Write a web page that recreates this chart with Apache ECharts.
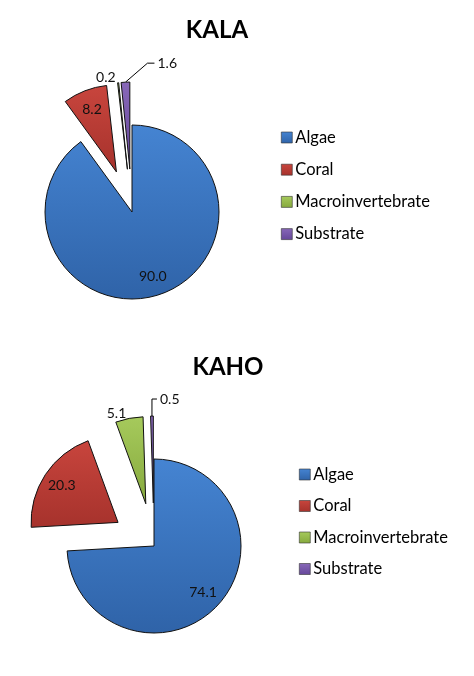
<!DOCTYPE html>
<html><head><meta charset="utf-8">
<script src="https://cdn.jsdelivr.net/npm/echarts@6/dist/echarts.min.js"></script>
<style>html,body{margin:0;padding:0;background:#fff}#c{width:474px;height:676px}</style>
</head><body><div id="c"></div>
<script>
// ---- data ----
const categories = ['Algae', 'Coral', 'Macroinvertebrate', 'Substrate'];
const kalaValues = [90.0, 8.2, 0.2, 1.6];
const kahoValues = [74.1, 20.3, 5.1, 0.5];
const explodedFlags = [false, true, true, true];
const kalaLabelModes = ['inside', 'inside', 'outside', 'leader'];
const kahoLabelModes = ['inside', 'inside', 'outside', 'leader'];
const chartTitles = ['KALA', 'KAHO'];

// ---- style ----
const FONT = 'Lato';
const R = 87;
const OFFSET = 43;
const sliceColors = [
  ['#4584d2', '#2f63a8'],
  ['#c8453d', '#a6322c'],
  ['#a6ca5c', '#86a93d'],
  ['#8868b8', '#65479a']
];
function grad(i) {
  return new echarts.graphic.LinearGradient(0, 0, 0, 1, [
    { offset: 0, color: sliceColors[i][0] },
    { offset: 1, color: sliceColors[i][1] }
  ]);
}
const pies = [
  { title: chartTitles[0], values: kalaValues, modes: kalaLabelModes,
    center: [132, 212], titlePos: [217, 18], legendPos: [281, 129], legendGap: 15.2, leader: [22, 19, 7] },
  { title: chartTitles[1], values: kahoValues, modes: kahoLabelModes,
    center: [154, 546], titlePos: [228, 355], legendPos: [299, 466], legendGap: 14.5, leader: [0, 17, 5] }
];

const chart = echarts.init(document.getElementById('c'), null, { renderer: 'canvas' });
const title = [], legend = [], series = [];
pies.forEach(function (cfg) {
  title.push({
    text: cfg.title, left: cfg.titlePos[0], top: cfg.titlePos[1], textAlign: 'center', padding: 0,
    textStyle: { fontFamily: FONT, fontWeight: 'bold', fontSize: 24, color: '#000' }
  });
  legend.push({
    data: categories, orient: 'vertical', left: cfg.legendPos[0], top: cfg.legendPos[1],
    padding: 0, itemGap: cfg.legendGap, itemWidth: 11, itemHeight: 11, icon: 'rect', selectedMode: false,
    itemStyle: { borderColor: '#333', borderWidth: 0.6 },
    textStyle: { fontFamily: FONT, fontSize: 16.5, color: '#000', padding: [0, 0, 0, -2] }
  });
  series.push({
    type: 'pie', center: cfg.center, radius: [0, R], selectedMode: 'multiple', selectedOffset: OFFSET,
    animation: false, silent: true, label: { show: false }, labelLine: { show: false },
    emphasis: { disabled: true },
    itemStyle: { borderColor: '#111', borderWidth: 1 },
    select: { itemStyle: { borderColor: '#111', borderWidth: 1 } },
    data: cfg.values.map(function (v, i) {
      return { name: categories[i], value: v, selected: explodedFlags[i], itemStyle: { color: grad(i) } };
    })
  });
  series.push({
    type: 'pie', center: cfg.center, radius: [R * 0.48, R], selectedMode: 'multiple', selectedOffset: OFFSET,
    animation: false, silent: true, avoidLabelOverlap: false, emphasis: { disabled: true },
    itemStyle: { color: 'transparent', borderWidth: 0 },
    select: { itemStyle: { color: 'transparent', borderWidth: 0 } },
    label: {
      fontFamily: FONT, fontSize: 14, color: '#111',
      formatter: function (p) { return p.value.toFixed(1); }
    },
    labelLayout: function (p) {
      if (cfg.modes[p.dataIndex] !== 'leader' || !p.labelLinePoints) return {};
      const pts = p.labelLinePoints;
      const p0 = pts[0];
      const p1 = [p0[0] + cfg.leader[0], p0[1] - cfg.leader[1]];
      const p2 = [p1[0] + cfg.leader[2], p1[1]];
      return {
        labelLinePoints: [p0, p1, p2], align: 'left',
        dx: (p2[0] + 3) - (pts[2][0] - 5), dy: p2[1] - pts[2][1]
      };
    },
    data: cfg.values.map(function (v, i) {
      const mode = cfg.modes[i];
      const item = { name: categories[i], value: v, selected: explodedFlags[i] };
      if (mode === 'inside') {
        item.label = { position: 'inside' };
        item.labelLine = { show: false };
      } else if (mode === 'outside') {
        item.label = { position: 'outside', distanceToLabelLine: 2 };
        item.labelLine = { show: false, length: 5, length2: 0 };
      } else {
        item.label = { position: 'outside', distanceToLabelLine: 5 };
        item.labelLine = { show: true, length: 10, length2: 5, lineStyle: { color: '#000', width: 1 } };
      }
      return item;
    })
  });
});

chart.setOption({ backgroundColor: '#fff', animation: false, title: title, legend: legend, series: series });
</script>
</body></html>
